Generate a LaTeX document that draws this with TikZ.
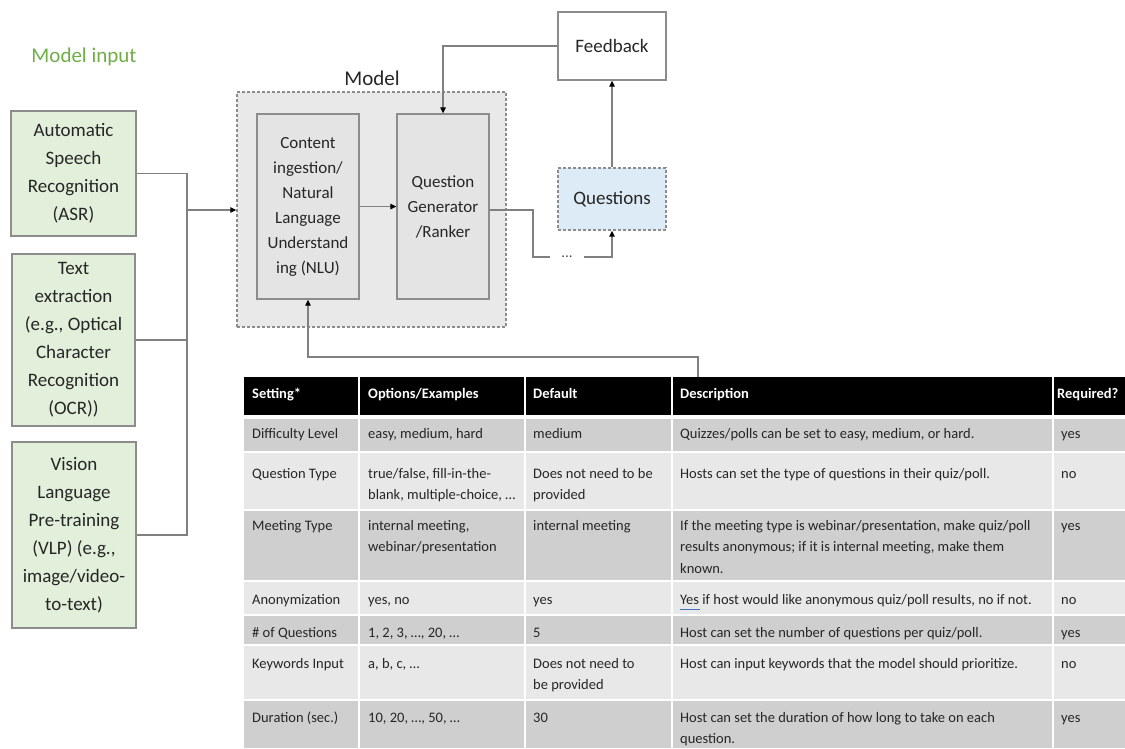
\documentclass[tikz,border=0pt]{standalone}
\usepackage{fontspec}
\setmainfont{Carlito}
\usetikzlibrary{arrows.meta}

\definecolor{inputgreen}{HTML}{70AD47}
\definecolor{greenfill}{HTML}{E2EFDA}
\definecolor{framegray}{HTML}{8C8C8C}
\definecolor{modelfill}{HTML}{E9E9E9}
\definecolor{blockfill}{HTML}{E4E4E4}
\definecolor{bluefill}{HTML}{DDEBF7}
\definecolor{wiregray}{HTML}{808080}
\definecolor{bodytext}{HTML}{262626}
\definecolor{rowdark}{HTML}{CFCFCF}
\definecolor{rowlight}{HTML}{E8E8E8}
\definecolor{spellblue}{HTML}{4472C4}

\begin{document}
\begin{tikzpicture}[x=1pt, y=-1pt,
  inputbox/.style={draw=framegray, line width=1.3pt, fill=greenfill, align=center,
    inner sep=0pt, text=bodytext, font=\fontsize{19}{28}\selectfont},
  block/.style={draw=framegray, line width=1.3pt, fill=blockfill, align=center,
    inner sep=0pt, text=bodytext, font=\fontsize{17}{25}\selectfont},
  dashbox/.style={draw=framegray, line width=1.4pt, dash pattern=on 3pt off 2pt},
  plainbox/.style={draw=framegray, line width=1.3pt, fill=white, inner sep=0pt,
    text=bodytext, font=\fontsize{19}{23}\selectfont},
  wire/.style={draw=wiregray, line width=1.3pt},
  feed/.style={wire, -{Triangle[length=6pt, width=5.5pt, color=black]}},
  tcell/.style={anchor=north west, inner sep=0pt, align=left, text=bodytext,
    font=\fontsize{14.5}{21.5}\selectfont},
  hcell/.style={tcell, text=white, font=\bfseries\fontsize{14.5}{21.5}\selectfont}
]
\useasboundingbox (0,0) rectangle (1125,748);

% ---------- inputs ----------
\node[text=inputgreen, font=\fontsize{21}{25}\selectfont] (inputs) at (84,57) {Model input};

\node[inputbox, minimum width=125, minimum height=125] (asr) at (73.5,173.5)
  {Automatic\\Speech\\Recognition\\(ASR)};
\node[inputbox, minimum width=123, minimum height=172] (ocr) at (73.5,340)
  {Text\\extraction\\(e.g., Optical\\Character\\Recognition\\(OCR))};
\node[inputbox, minimum width=124, minimum height=186] (vlp) at (74,535)
  {Vision\\Language\\Pre-training\\(VLP) (e.g.,\\image/video-\\to-text)};

% ---------- model ----------
\node[dashbox, fill=modelfill, minimum width=269, minimum height=235] (model) at (371.5,209.5) {};
\node[font=\fontsize{21}{25}\selectfont, text=bodytext] (modeltitle) at (372,78) {Model};
\node[block, minimum width=102, minimum height=185] (nlu) at (308,206.5)
  {Content\\ingestion/\\Natural\\Language\\Understand\\ing (NLU)};
\node[block, minimum width=92, minimum height=185] (qg) at (443,206.5)
  {Question\\Generator\\/Ranker};

% ---------- outputs ----------
\node[plainbox, minimum width=108, minimum height=68] (fb) at (612,46) {Feedback};
\node[dashbox, fill=bluefill, inner sep=0pt, text=bodytext, font=\fontsize{19}{23}\selectfont,
  minimum width=108, minimum height=62] (qs) at (612,199) {Questions};
\node[inner sep=0pt, minimum width=34, text=black!70, font=\fontsize{15}{17}\selectfont]
  (dots) at (567,257) {...};

% ---------- connectors ----------
\coordinate (bus) at (187,210);
\draw[wire] (asr.east) -| (bus);
\draw[wire] (vlp.east) -| (bus);
\draw[wire] (ocr.east) -- (ocr.east -| bus);
\draw[feed] (bus) -- (bus -| model.west);
\draw[feed] (nlu.east) -- (qg.west);
\draw[feed] (fb.west) -| (qg.north);
\draw[feed] (qs.north) -- (fb.south);
\coordinate (qgturn) at (533,210);
\draw[wire] ([yshift=-3.5pt]qg.east) -- (qgturn) |- (dots.west);
\draw[feed] (dots.east) -| (qs.south);

% ---------- settings table ----------
\fill[black] (244,377) rectangle (1125,416);
\fill[rowdark]  (244,416) rectangle (1125,452);
\fill[rowlight] (244,452) rectangle (1125,510);
\fill[rowdark]  (244,510) rectangle (1125,581);
\fill[rowlight] (244,581) rectangle (1125,615);
\fill[rowdark]  (244,615) rectangle (1125,645);
\fill[rowlight] (244,645) rectangle (1125,700);
\fill[rowdark]  (244,700) rectangle (1125,748);
\foreach \yy in {452,510,581,615,645,700}
  \draw[white, line width=2pt] (244,\yy) -- (1125,\yy);
\draw[white, line width=3.5pt] (244,417) -- (1125,417);
\foreach \xx in {359,525,672,1053}
  \draw[white, line width=2pt] (\xx,377) -- (\xx,748);

\coordinate (tab) at (698,377);
\coordinate (tabturn) at (698,357);
\draw[feed] (tab) -- (tabturn) -| (nlu.south);

% header
\node[hcell] (h1) at (252,383) {\strut Setting*};
\node[hcell] (h2) at (368,383) {\strut Options/Examples};
\node[hcell] (h3) at (533,383) {\strut Default};
\node[hcell] (h4) at (680,383) {\strut Description};
\node[hcell] (h5) at (1057,383) {\strut Required?};

% difficulty
\node[tcell] (a1) at (252,423) {\strut Difficulty Level};
\node[tcell] (a2) at (368,423) {\strut easy, medium, hard};
\node[tcell] (a3) at (533,423) {\strut medium};
\node[tcell] (a4) at (680,423) {\strut Quizzes/polls can be set to easy, medium, or hard.};
\node[tcell] (a5) at (1061,423) {\strut yes};

% question type
\node[tcell] (b1) at (252,463) {\strut Question Type};
\node[tcell] (b2) at (368,463) {\strut true/false, fill-in-the-\\blank, multiple-choice, …};
\node[tcell] (b3) at (533,463) {\strut Does not need to be\\provided};
\node[tcell] (b4) at (680,463) {\strut Hosts can set the type of questions in their quiz/poll.};
\node[tcell] (b5) at (1061,463) {\strut no};

% meeting type
\node[tcell] (c1) at (252,515) {\strut Meeting Type};
\node[tcell] (c2) at (368,515) {\strut internal meeting,\\webinar/presentation};
\node[tcell] (c3) at (533,515) {\strut internal meeting};
\node[tcell] (c4) at (680,515) {\strut If the meeting type is webinar/presentation, make quiz/poll\\results anonymous; if it is internal meeting, make them\\known.};
\node[tcell] (c5) at (1061,515) {\strut yes};

% anonymization
\node[tcell] (d1) at (252,589) {\strut Anonymization};
\node[tcell] (d2) at (368,589) {\strut yes, no};
\node[tcell] (d3) at (533,589) {\strut yes};
\node[tcell] (d4) at (680,589) {\strut Yes if host would like anonymous quiz/poll results, no if not.};
\node[tcell] (d5) at (1061,589) {\strut no};
\draw[spellblue, line width=0.9pt] (680,609) -- (700,609);

% number of questions
\node[tcell] (e1) at (252,622) {\strut \# of Questions};
\node[tcell] (e2) at (368,622) {\strut 1, 2, 3, …, 20, …};
\node[tcell] (e3) at (533,622) {\strut 5};
\node[tcell] (e4) at (680,622) {\strut Host can set the number of questions per quiz/poll.};
\node[tcell] (e5) at (1061,622) {\strut yes};

% keywords
\node[tcell] (f1) at (252,653) {\strut Keywords Input};
\node[tcell] (f2) at (368,653) {\strut a, b, c, …};
\node[tcell] (f3) at (533,653) {\strut Does not need to\\be provided};
\node[tcell] (f4) at (680,653) {\strut Host can input keywords that the model should prioritize.};
\node[tcell] (f5) at (1061,653) {\strut no};

% duration
\node[tcell] (g1) at (252,707) {\strut Duration (sec.)};
\node[tcell] (g2) at (368,707) {\strut 10, 20, …, 50, …};
\node[tcell] (g3) at (533,707) {\strut 30};
\node[tcell] (g4) at (680,707) {\strut Host can set the duration of how long to take on each\\question.};
\node[tcell] (g5) at (1061,707) {\strut yes};
\end{tikzpicture}
\end{document}
